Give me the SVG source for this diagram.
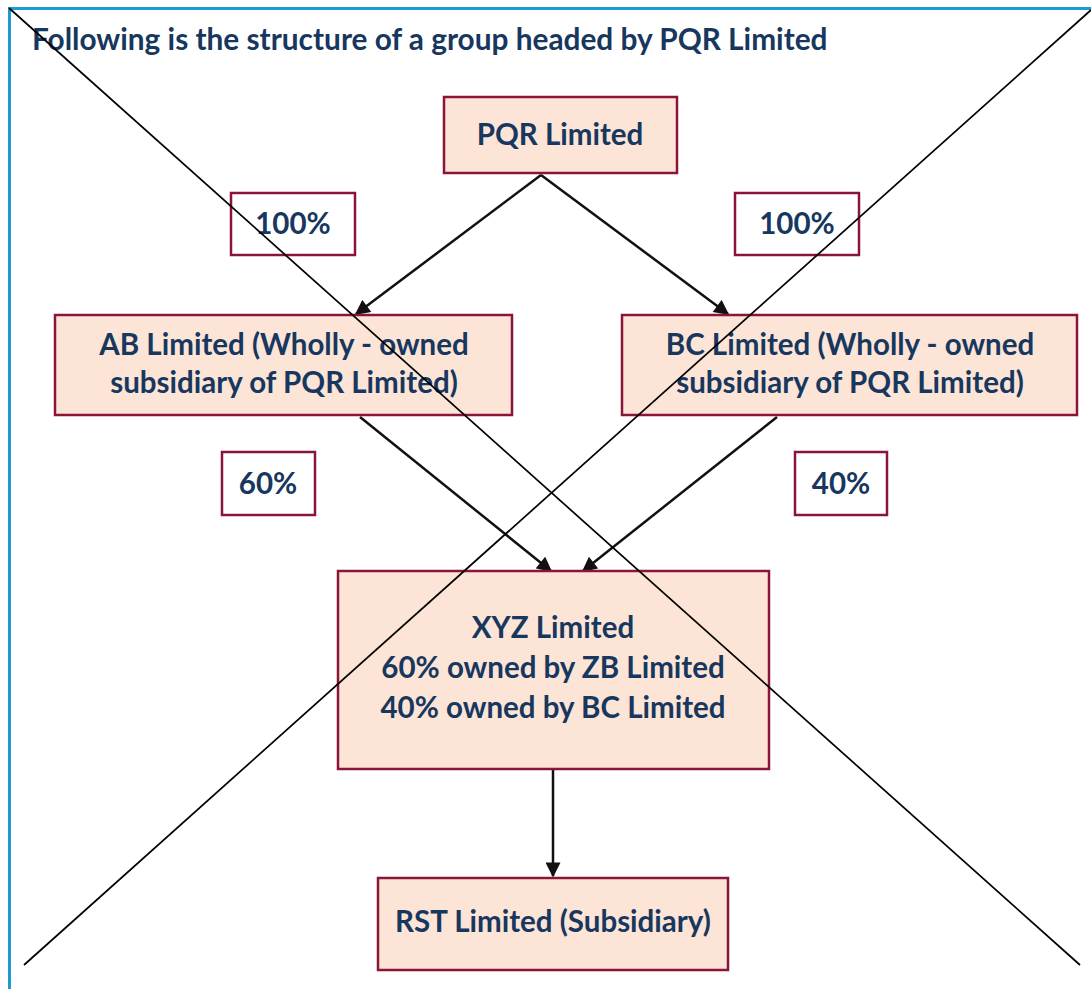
<svg xmlns="http://www.w3.org/2000/svg" width="1091" height="989" viewBox="0 0 1091 989">
  <style>
    .box { fill: #FCE4D6; stroke: #8A1538; stroke-width: 2.5; }
    .pct { fill: #FFFFFF; stroke: #8A1538; stroke-width: 2.5; }
    .lbl { font-family: Lato, "Open Sans", sans-serif; font-weight: bold; fill: #17375E; text-anchor: middle; font-size: 29.5px; }
    .link { stroke: #111111; stroke-width: 2.5; fill: none; marker-end: url(#arrow); }
    .cross { stroke: #000000; stroke-width: 1.7; fill: none; }
  </style>
  <defs>
    <marker id="arrow" viewBox="0 0 10 10" refX="9" refY="5" markerWidth="6.5" markerHeight="6" markerUnits="strokeWidth" orient="auto">
      <path d="M0,0 L10,5 L0,10 z" fill="#111111"/>
    </marker>
  </defs>

  <rect x="0" y="0" width="1091" height="989" fill="#FFFFFF"/>

  <!-- frame edges -->
  <line x1="9.5" y1="7" x2="9.5" y2="989" stroke="#1E9AD0" stroke-width="3"/>
  <line x1="8" y1="8.5" x2="1091" y2="8.5" stroke="#1E9AD0" stroke-width="3"/>

  <text x="32" y="50" class="lbl" style="text-anchor:start; font-size:29.8px">Following is the structure of a group headed by PQR Limited</text>

  <g id="connectors">
    <line class="link" x1="541" y1="175" x2="356" y2="314"/>
    <line class="link" x1="541" y1="175" x2="728" y2="314"/>
    <line class="link" x1="360" y1="417" x2="551" y2="571"/>
    <line class="link" x1="777" y1="417" x2="583" y2="571"/>
    <line class="link" x1="553" y1="768" x2="553" y2="876"/>
  </g>

  <g id="pqr">
    <rect class="box" x="444" y="97" width="233" height="76"/>
    <text class="lbl" x="560" y="145">PQR Limited</text>
  </g>

  <g id="pct-ab">
    <rect class="pct" x="231" y="193" width="124" height="62"/>
    <text class="lbl" x="293" y="234">100%</text>
  </g>

  <g id="pct-bc">
    <rect class="pct" x="735" y="193" width="124" height="62"/>
    <text class="lbl" x="797" y="234">100%</text>
  </g>

  <g id="ab">
    <rect class="box" x="55" y="315" width="457" height="100"/>
    <text class="lbl" x="284" y="355">AB Limited (Wholly - owned</text>
    <text class="lbl" x="284" y="393">subsidiary of PQR Limited)</text>
  </g>

  <g id="bc">
    <rect class="box" x="622" y="315" width="455" height="100"/>
    <text class="lbl" x="850" y="355">BC Limited (Wholly - owned</text>
    <text class="lbl" x="850" y="393">subsidiary of PQR Limited)</text>
  </g>

  <g id="pct-xyz-ab">
    <rect class="pct" x="222" y="452" width="93" height="63"/>
    <text class="lbl" x="268" y="494">60%</text>
  </g>

  <g id="pct-xyz-bc">
    <rect class="pct" x="795" y="452" width="92" height="63"/>
    <text class="lbl" x="841" y="494">40%</text>
  </g>

  <g id="xyz">
    <rect class="box" x="338" y="571" width="431" height="198"/>
    <text class="lbl" x="553" y="638">XYZ Limited</text>
    <text class="lbl" x="553" y="678">60% owned by ZB Limited</text>
    <text class="lbl" x="553" y="718">40% owned by BC Limited</text>
  </g>

  <g id="rst">
    <rect class="box" x="378" y="878" width="350" height="92"/>
    <text class="lbl" x="553" y="932">RST Limited (Subsidiary)</text>
  </g>

  <!-- strike-through cross over the whole sheet -->
  <line class="cross" x1="9" y1="8" x2="1080" y2="965"/>
  <line class="cross" x1="1091" y1="10" x2="24" y2="965"/>
</svg>
